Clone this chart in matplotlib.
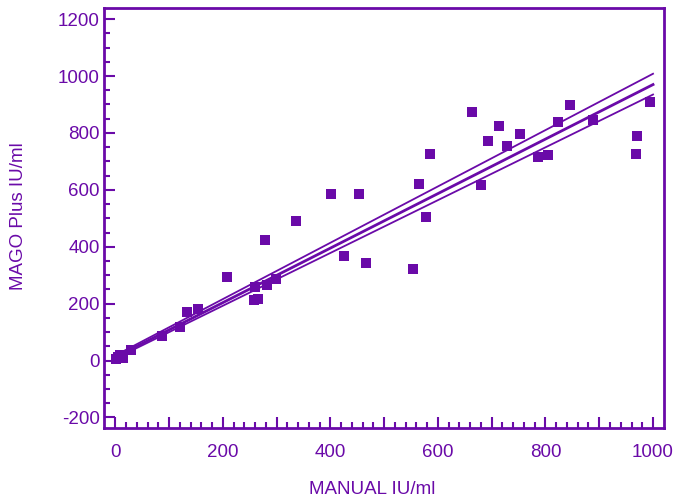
import matplotlib.pyplot as plt
import numpy as np

# MANUAL vs MAGO Plus (IU/ml)
manual = [2, 8, 14, 5, 30, 86, 121, 134, 153, 207, 258, 266, 260, 282, 299, 278,
          336, 401, 453, 425, 466, 553, 564, 577, 585, 663, 680, 694, 714, 728,
          752, 787, 804, 823, 845, 889, 969, 971, 995]
mago = [5, 18, 8, 12, 38, 85, 118, 171, 182, 295, 214, 218, 260, 264, 288, 424,
        491, 584, 586, 366, 344, 321, 620, 504, 727, 875, 617, 771, 825, 755,
        795, 717, 723, 839, 899, 846, 727, 790, 907]

# regression line and its two bounds: (intercept, slope)
fit_line = (12, 0.958)
upper_line = (18, 0.99)
lower_line = (7, 0.928)
line_range = [0, 1000]

purple = '#6a0aa8'
plt.rcParams['font.family'] = ['Liberation Sans', 'DejaVu Sans']
plt.rcParams['axes.unicode_minus'] = False

fig = plt.figure(figsize=(6.73, 5), dpi=100)
ax = fig.add_axes([0.1545, 0.1434, 0.8326, 0.84])

ax.scatter(manual, mago, marker='s', s=52, color=purple, linewidths=0, zorder=3)

xx = np.array(line_range)
for (b, m), lw in [(fit_line, 2.0), (upper_line, 1.3), (lower_line, 1.3)]:
    ax.plot(xx, b + m * xx, color=purple, lw=lw)

ax.set_xlim(-21, 1021)
ax.set_ylim(-238, 1238)
ax.set_xticks(np.arange(0, 1001, 20), minor=True)
ax.set_yticks(np.arange(-200, 1201, 200))
ax.set_yticks(np.arange(-200, 1201, 50), minor=True)

# major x ticks every 100, labels only every 200
ax.set_xticks(np.arange(0, 1001, 100))
ax.set_xticklabels([str(v) if v % 200 == 0 else '' for v in range(0, 1001, 100)])

for sp in ax.spines.values():
    sp.set_color(purple)
    sp.set_linewidth(2)
ax.tick_params(which='both', direction='in', color=purple, labelcolor=purple,
               labelsize=13.5, width=1.5)
ax.tick_params(which='major', length=8)
ax.tick_params(which='minor', length=4.5)
ax.tick_params(axis='x', pad=11)
ax.tick_params(axis='y', pad=3)

ax.set_xlabel('MANUAL IU/ml', color=purple, fontsize=13.5)
ax.set_ylabel('MAGO Plus IU/ml', color=purple, fontsize=13.5)
ax.xaxis.set_label_coords(0.478, -0.125)
ax.yaxis.set_label_coords(-0.138, 0.505)

fig.savefig('out.png', dpi=100)
